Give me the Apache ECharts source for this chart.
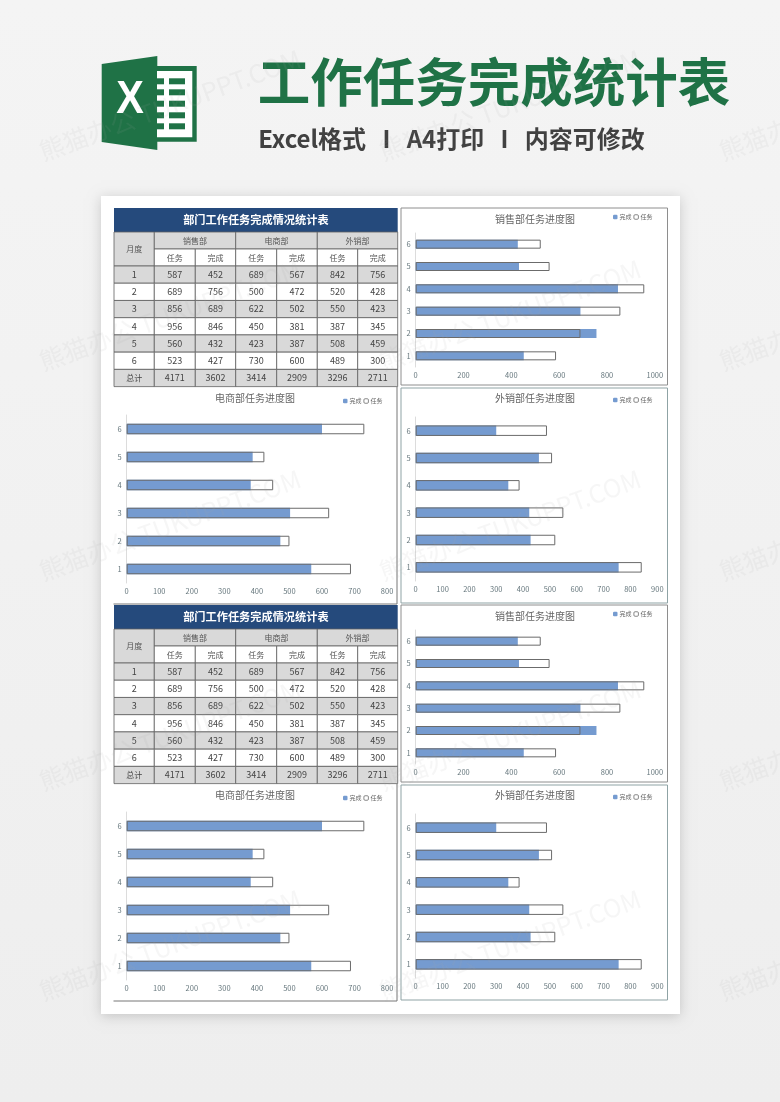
<!DOCTYPE html>
<html>
<head>
<meta charset="utf-8">
<title>工作任务完成统计表</title>
<style>
  html, body { margin: 0; padding: 0; background: #f2f2f2; }
  #main { width: 780px; height: 1102px; }
</style>
<script src="https://cdn.jsdelivr.net/npm/echarts@6/dist/echarts.min.js"></script>
</head>
<body>
<div id="main"></div>
<script>
var months = ['1', '2', '3', '4', '5', '6'];
var salesTask = [587, 689, 856, 956, 560, 523];
var salesDone = [452, 756, 689, 846, 432, 427];
var ecomTask = [689, 500, 622, 450, 423, 730];
var ecomDone = [567, 472, 502, 381, 387, 600];
var exportTask = [842, 520, 550, 387, 508, 489];
var exportDone = [756, 428, 423, 345, 459, 300];
var totals = [4171, 3602, 3414, 2909, 3296, 2711];
var departments = ['销售部', '电商部', '外销部'];

var FONT = '"Noto Sans CJK SC", "Noto Sans", sans-serif';
var GREEN = '#1f7246';
var BLUE = '#759bd0';
var NAVY = '#254a7c';
var CELL_GREY = '#d9d9d9';
var LINE = '#5f5f5f';

var chart = echarts.init(document.getElementById('main'));
var graphic = [];

function rect(x, y, w, h, fill, stroke, lw, z) {
  graphic.push({
    type: 'rect', z: z === undefined ? -5 : z, silent: true,
    shape: { x: x, y: y, width: w, height: h },
    style: { fill: fill, stroke: stroke || null, lineWidth: lw || 0 }
  });
}
function label(x, y, str, size, color, weight) {
  graphic.push({
    type: 'text', z: 5, silent: true, x: x, y: y,
    style: {
      text: str, fontSize: size, fill: color, fontFamily: FONT,
      fontWeight: weight || 'normal', align: 'center', verticalAlign: 'middle'
    }
  });
}
function segment(x1, y1, x2, y2, color) {
  graphic.push({
    type: 'line', z: -3, silent: true,
    shape: { x1: x1, y1: y1, x2: x2, y2: y2 },
    style: { stroke: color, lineWidth: 1 }
  });
}

// page background and sheet
rect(0, 0, 780, 1102, {
  type: 'linear', x: 0, y: 0, x2: 0, y2: 1,
  colorStops: [{ offset: 0, color: '#f4f4f4' }, { offset: 1, color: '#eeeeee' }]
}, null, 0, -20);
graphic.push({
  type: 'rect', z: -19, silent: true,
  shape: { x: 101, y: 196, width: 579, height: 818 },
  style: { fill: '#fff', shadowBlur: 12, shadowColor: 'rgba(0,0,0,0.18)', shadowOffsetY: 2 }
});

// excel logo
graphic.push({
  type: 'polygon', z: 1, silent: true,
  shape: { points: [[101.7, 64], [157.3, 56], [157.3, 150], [101.7, 142]] },
  style: { fill: GREEN }
});
rect(157, 66, 39.7, 75.7, GREEN, null, 0, 1);
rect(157, 71, 35.3, 66.3, '#fff', null, 0, 1);
[78.3, 89.3, 100.7, 112.3, 123.3].forEach(function (y) {
  rect(157, y, 7, 6, GREEN, null, 0, 2);
  rect(169, y, 16, 6, GREEN, null, 0, 2);
});
graphic.push({
  type: 'text', z: 5, silent: true, x: 130, y: 100.5, scaleX: 0.9,
  style: {
    text: 'X', fontSize: 46, fontWeight: 'bold', fill: '#fff', align: 'center', verticalAlign: 'middle',
    fontFamily: '"Liberation Sans", sans-serif'
  }
});

// heading
label(494, 82, '工作任务完成统计表', 52.5, GREEN, 'bold');
label(451.5, 139, 'Excel格式   I   A4打印   I   内容可修改', 24, '#414141', 'bold');

// summary table, drawn twice
var colX = [114, 154.3, 195.3, 235.7, 276.7, 317.3, 357.7, 397.7];
function drawTable(top) {
  var y0 = top + 24, y1 = y0 + 17, y2 = y1 + 17, rowH = 17.23;
  var right = colX[7], left = colX[0];
  rect(left, top, right - left, 24, NAVY, null, 0);
  label((left + right) / 2, top + 12, '部门工作任务完成情况统计表', 11.2, '#fff', 'bold');

  rect(left, y0, colX[1] - left, y2 - y0, CELL_GREY, LINE, 0.8);
  label((left + colX[1]) / 2, (y0 + y2) / 2, '月度', 8, '#555');
  departments.forEach(function (d, i) {
    var a = colX[1 + i * 2], b = colX[3 + i * 2];
    rect(a, y0, b - a, 17, CELL_GREY, LINE, 0.8);
    label((a + b) / 2, y0 + 8.5, d, 8, '#555');
    ['任务', '完成'].forEach(function (h, j) {
      var c = colX[1 + i * 2 + j], e = colX[2 + i * 2 + j];
      rect(c, y1, e - c, 17, '#fff', LINE, 0.8);
      label((c + e) / 2, y1 + 8.5, h, 8, '#555');
    });
  });

  var columns = [salesTask, salesDone, ecomTask, ecomDone, exportTask, exportDone];
  months.concat(['总计']).forEach(function (m, r) {
    var y = y2 + r * rowH;
    var fill = r % 2 === 0 ? CELL_GREY : '#fff';
    rect(left, y, colX[1] - left, rowH, fill, LINE, 0.8);
    label((left + colX[1]) / 2, y + rowH / 2, m, r === 6 ? 8 : 9, '#444');
    columns.forEach(function (col, k) {
      var v = r === 6 ? totals[k] : col[r];
      rect(colX[k + 1], y, colX[k + 2] - colX[k + 1], rowH, fill, LINE, 0.8);
      label((colX[k + 1] + colX[k + 2]) / 2, y + rowH / 2, String(v), 9, '#444');
    });
  });
}
drawTable(208);
drawTable(605);

// the three progress charts, drawn twice
var panels = [
  { name: '销售部任务进度图', task: salesTask, done: salesDone, max: 1000, step: 200, barW: 9,
    frame: [401, 208, 266.5, 177], frameColor: '#8e8e8e', openLeft: false,
    grid: [415.7, 233, 239.1, 134], titleX: 535, titleY: 214, legendX: 613, legendY: 214 },
  { name: '电商部任务进度图', task: ecomTask, done: ecomDone, max: 800, step: 100, barW: 10.5,
    frame: [113.5, 387, 283.5, 217], frameColor: '#777', openLeft: true,
    grid: [126.7, 415, 260.4, 168], titleX: 255, titleY: 393, legendX: 343, legendY: 398 },
  { name: '外销部任务进度图', task: exportTask, done: exportDone, max: 900, step: 100, barW: 10.5,
    frame: [401, 388, 266.5, 215], frameColor: '#8fa3a5', openLeft: false,
    grid: [415.7, 417, 241.6, 164], titleX: 535, titleY: 393, legendX: 613, legendY: 397 }
];

var grids = [], xAxes = [], yAxes = [], series = [], titles = [], legends = [];
[0, 397].forEach(function (shift) {
  panels.forEach(function (p) {
    var idx = grids.length;
    var fx = p.frame[0], fy = p.frame[1] + shift, fw = p.frame[2], fh = p.frame[3];
    if (p.openLeft) {
      // this panel butts against the table, only the right and bottom edges show
      segment(fx + fw, fy, fx + fw, fy + fh, p.frameColor);
      segment(fx, fy + fh, fx + fw, fy + fh, p.frameColor);
    } else {
      rect(fx, fy, fw, fh, '#fff', p.frameColor, 1, -4);
    }
    grids.push({ left: p.grid[0], top: p.grid[1] + shift, width: p.grid[2], height: p.grid[3] });
    xAxes.push({
      type: 'value', gridIndex: idx, min: 0, max: p.max, interval: p.step,
      splitLine: { show: false }, axisLine: { show: false }, axisTick: { show: false },
      axisLabel: { fontSize: 7.5, color: '#66777d', margin: 4, fontFamily: FONT, formatter: String }
    });
    yAxes.push({
      type: 'category', gridIndex: idx, data: months,
      axisLine: { show: true, lineStyle: { color: '#dcdcdc', width: 1 } }, axisTick: { show: false },
      axisLabel: { fontSize: 7.5, color: '#66777d', margin: 5, fontFamily: FONT }
    });
    titles.push({
      text: p.name, left: p.titleX, top: p.titleY + shift, textAlign: 'center', padding: 0,
      textStyle: { fontSize: 10, fontWeight: 'normal', color: '#666', fontFamily: FONT }
    });
    legends.push({
      left: p.legendX, top: p.legendY + shift, padding: 0, itemWidth: 4.5, itemHeight: 4.5, itemGap: 2,
      data: ['完成' + idx, { name: '任务' + idx, itemStyle: { borderWidth: 0.8 } }],
      formatter: function (n) { return n.slice(0, 2); },
      textStyle: { fontSize: 6, color: '#666', padding: [0, 0, 0, -3], fontFamily: FONT }
    });
    series.push({
      name: '完成' + idx, type: 'bar', xAxisIndex: idx, yAxisIndex: idx, data: p.done,
      barWidth: p.barW, barGap: '-100%', itemStyle: { color: BLUE }, silent: true, animation: false
    });
    series.push({
      name: '任务' + idx, type: 'bar', xAxisIndex: idx, yAxisIndex: idx, data: p.task,
      barWidth: p.barW, barGap: '-100%', silent: true, animation: false,
      itemStyle: { color: 'transparent', borderColor: '#6b6b6b', borderWidth: 1 }
    });
  });
});

// faint tiled watermark over everything
[170, 510, 850].forEach(function (x) {
  [105, 315, 525, 735, 945].forEach(function (y) {
    graphic.push({
      type: 'text', z: 50, silent: true, x: x, y: y, rotation: 20 * Math.PI / 180,
      style: {
        text: '熊猫办公 TUKUPPT.COM', fontSize: 25, fontFamily: FONT, align: 'center', verticalAlign: 'middle',
        fill: 'rgba(170,170,170,0.10)'
      }
    });
  });
});

chart.setOption({
  animation: false,
  title: titles,
  legend: legends,
  grid: grids,
  xAxis: xAxes,
  yAxis: yAxes,
  series: series,
  graphic: { elements: graphic }
});
</script>
</body>
</html>
